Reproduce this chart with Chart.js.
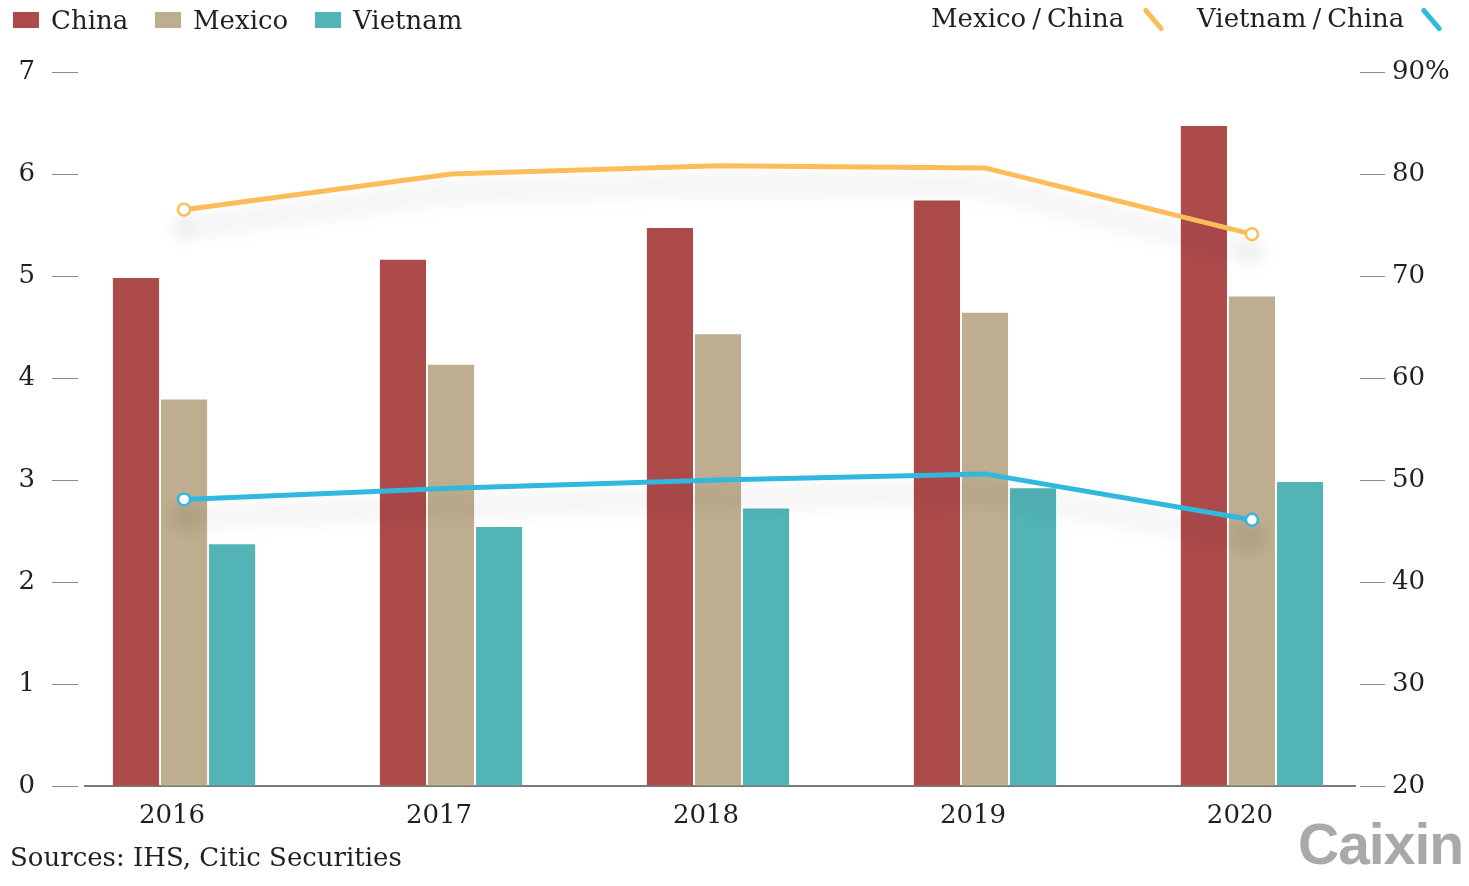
<!DOCTYPE html>
<html>
<head>
<meta charset="utf-8">
<script src="https://cdn.jsdelivr.net/npm/chart.js@4.4.1/dist/chart.umd.min.js"></script>
<style>
  html, body { margin: 0; padding: 0; background: #fff; }
  body { width: 1469px; height: 886px; position: relative; overflow: hidden;
         font-family: "DejaVu Serif", serif; color: #231f20; }
  #wrap { position: absolute; left: 0; top: 0; width: 1469px; height: 886px; }
  .leg { position: absolute; font-size: 26px; line-height: 30px; white-space: nowrap; }
  .box { display: inline-block; width: 26px; height: 16px; margin-right: 12px; vertical-align: 1px; }
  .sl { margin: 0 6px; }
  .stroke { position: absolute; width: 29px; height: 5px; border-radius: 3px;
            transform: rotate(50deg); top: 17px; }
  #source { position: absolute; left: 10px; top: 842px; font-size: 26px; line-height: 30px; }
  #logo { position: absolute; left: 1298px; top: 811px; font-family: "Liberation Sans", Arial, sans-serif;
          font-weight: bold; font-size: 57px; color: #a9a9a9; letter-spacing: -1px; }
</style>
</head>
<body>
<div id="wrap"><canvas id="chart" width="1469" height="886"></canvas></div>

<div class="leg" style="left:13px; top:5px;"><span class="box" style="background:#ad4a4a"></span>China</div>
<div class="leg" style="left:155px; top:5px;"><span class="box" style="background:#bead8e"></span>Mexico</div>
<div class="leg" style="left:315px; top:5px;"><span class="box" style="background:#52b4b5"></span>Vietnam</div>
<div class="leg" style="left:931px; top:3px;">Mexico<span class="sl">/</span>China</div>
<span class="stroke" style="left:1139px; background:#fbbd59"></span>
<div class="leg" style="left:1197px; top:3px;">Vietnam<span class="sl">/</span>China</div>
<span class="stroke" style="left:1417px; background:#31b8df"></span>

<div id="source">Sources: IHS, Citic Securities</div>
<div id="logo">Caixin</div>

<script>
var years = ['2016', '2017', '2018', '2019', '2020'];
var china = [4.98, 5.16, 5.47, 5.74, 6.47];
var mexico = [3.79, 4.13, 4.43, 4.64, 4.80];
var vietnam = [2.37, 2.54, 2.72, 2.92, 2.98];
var mexicoChina = [76.5, 80.0, 80.8, 80.6, 74.1];
var vietnamChina = [48.1, 49.2, 50.0, 50.6, 46.1];
var leftTicks = [0, 1, 2, 3, 4, 5, 6, 7];
var rightTicks = [20, 30, 40, 50, 60, 70, 80, 90];

var FONT = { family: '"DejaVu Serif", serif', size: 26 };
var TEXT = '#231f20';

function toPoints(arr) {
    return arr.map(function (v, i) { return { x: i, y: v }; });
}

// soft grey shadow under the ratio lines
var lineShadow = {
    id: 'lineShadow',
    beforeDatasetDraw: function (chart, args) {
        if (args.meta.type !== 'line') return;
        var ctx = chart.ctx;
        ctx.save();
        ctx.shadowColor = 'rgba(0,0,0,0.2)';
        ctx.shadowBlur = 22;
        ctx.shadowOffsetY = 18;
    },
    afterDatasetDraw: function (chart, args) {
        if (args.meta.type !== 'line') return;
        chart.ctx.restore();
    }
};

var endRadius = [6, 0, 0, 0, 6];

var ctx = document.getElementById('chart').getContext('2d');
var chart = new Chart(ctx, {
    type: 'bar',
    data: {
        datasets: [
            { type: 'line', label: 'Mexico/China', data: toPoints(mexicoChina), yAxisID: 'y1', order: 0,
              borderColor: '#fbbd59', borderWidth: 5, tension: 0,
              pointRadius: endRadius, pointBackgroundColor: '#fff', pointBorderColor: '#fbbd59', pointBorderWidth: 2.5 },
            { type: 'line', label: 'Vietnam/China', data: toPoints(vietnamChina), yAxisID: 'y1', order: 0,
              borderColor: '#31b8df', borderWidth: 5, tension: 0,
              pointRadius: endRadius, pointBackgroundColor: '#fff', pointBorderColor: '#31b8df', pointBorderWidth: 2.5 },
            { label: 'China', data: toPoints(china), backgroundColor: '#ad4a4a', yAxisID: 'y', order: 1 },
            { label: 'Mexico', data: toPoints(mexico), backgroundColor: '#bead8e', yAxisID: 'y', order: 1 },
            { label: 'Vietnam', data: toPoints(vietnam), backgroundColor: '#52b4b5', yAxisID: 'y', order: 1 }
        ]
    },
    options: {
        responsive: false,
        devicePixelRatio: 1,
        animation: false,
        categoryPercentage: 0.54,
        barPercentage: 0.96,
        layout: { padding: { top: 72, left: 0, right: 0, bottom: 0 } },
        plugins: { legend: { display: false }, tooltip: { enabled: false } },
        scales: {
            x: {
                type: 'linear',
                min: -0.371,
                max: 4.386,
                offset: false,
                grid: { display: false, drawTicks: false, offset: false },
                border: { display: true, color: '#7a7a7a', width: 2 },
                afterBuildTicks: function (s) {
                    s.ticks = years.map(function (y, i) { return { value: i }; });
                },
                ticks: {
                    font: FONT, color: TEXT, padding: 15, labelOffset: -12, maxRotation: 0,
                    callback: function (v) { return years[v]; }
                },
                afterFit: function (s) { s.height = 100; }
            },
            y: {
                position: 'left',
                min: 0, max: 7,
                afterBuildTicks: function (s) {
                    s.ticks = leftTicks.map(function (v) { return { value: v }; });
                },
                grid: { drawOnChartArea: false, tickLength: 33, tickColor: '#8a8a8a', tickWidth: 1,
                        tickBorderDash: [26, 7] },
                border: { display: false },
                ticks: { font: FONT, color: TEXT, padding: 17 },
                afterFit: function (s) { s.width = 85; }
            },
            y1: {
                position: 'right',
                min: 20, max: 90,
                afterBuildTicks: function (s) {
                    s.ticks = rightTicks.map(function (v) { return { value: v }; });
                },
                grid: { drawOnChartArea: false, tickLength: 30, tickColor: '#8a8a8a', tickWidth: 1,
                        tickBorderDash: [0, 5, 25, 0] },
                border: { display: false },
                ticks: { font: FONT, color: TEXT, padding: 7,
                         callback: function (v) { return v === 90 ? '90%' : v; } },
                afterFit: function (s) { s.width = 114; }
            }
        }
    },
    plugins: [lineShadow]
});
</script>
</body>
</html>
